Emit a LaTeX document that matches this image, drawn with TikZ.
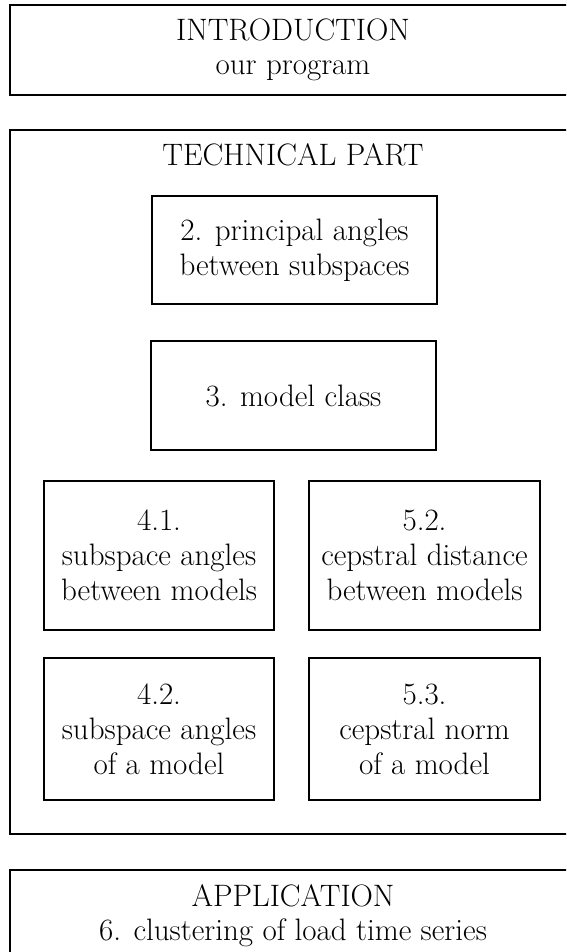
\documentclass[tikz,border=0pt]{standalone}
\usepackage{fontspec}
\begin{document}
\begin{tikzpicture}[x=1pt,y=-1pt,
  box/.style={draw, line width=1.6pt, rectangle, inner sep=0pt, align=center,
    font=\fontsize{31}{35}\selectfont},
  lbl/.style={font=\fontsize{31}{35}\selectfont, align=center, inner sep=0pt, anchor=base}]
\fill[white] (0,0) rectangle (566,952);
\useasboundingbox (0,0) rectangle (566,952);
\clip (0,0) rectangle (566,952);
% outer boxes
\node[box, minimum width=566pt, minimum height=90pt] (intro) at (293,50) {};
\node[lbl] (introT) at (293,41) {INTRODUCTION};
\node[lbl] (introS) at (293,75) {our program};
\node[box, minimum width=566pt, minimum height=704pt] (tech) at (293,482) {};
\node[lbl] (techT) at (293,166) {TECHNICAL PART};
\node[box, minimum width=566pt, minimum height=90pt] (app) at (293,915) {};
\node[lbl] (appT) at (293,906) {APPLICATION};
\node[lbl] (appS) at (293,940) {6. clustering of load time series};
% inner boxes
\node[box, minimum width=285pt, minimum height=108pt] (s2) at (294.5,250) {2. principal angles\\between subspaces};
\node[box, minimum width=285pt, minimum height=109pt] (s3) at (293.5,395.5) {3. model class};
\node[box, minimum width=230pt, minimum height=149pt] (s41) at (159,555.5) {4.1.\\subspace angles\\between models};
\node[box, minimum width=231pt, minimum height=149pt] (s52) at (424.5,555.5) {5.2.\\cepstral distance\\between models};
\node[box, minimum width=230pt, minimum height=142pt] (s42) at (159,729) {4.2.\\subspace angles\\of a model};
\node[box, minimum width=231pt, minimum height=142pt] (s53) at (424.5,729) {5.3.\\cepstral norm\\of a model};
\end{tikzpicture}
\end{document}
